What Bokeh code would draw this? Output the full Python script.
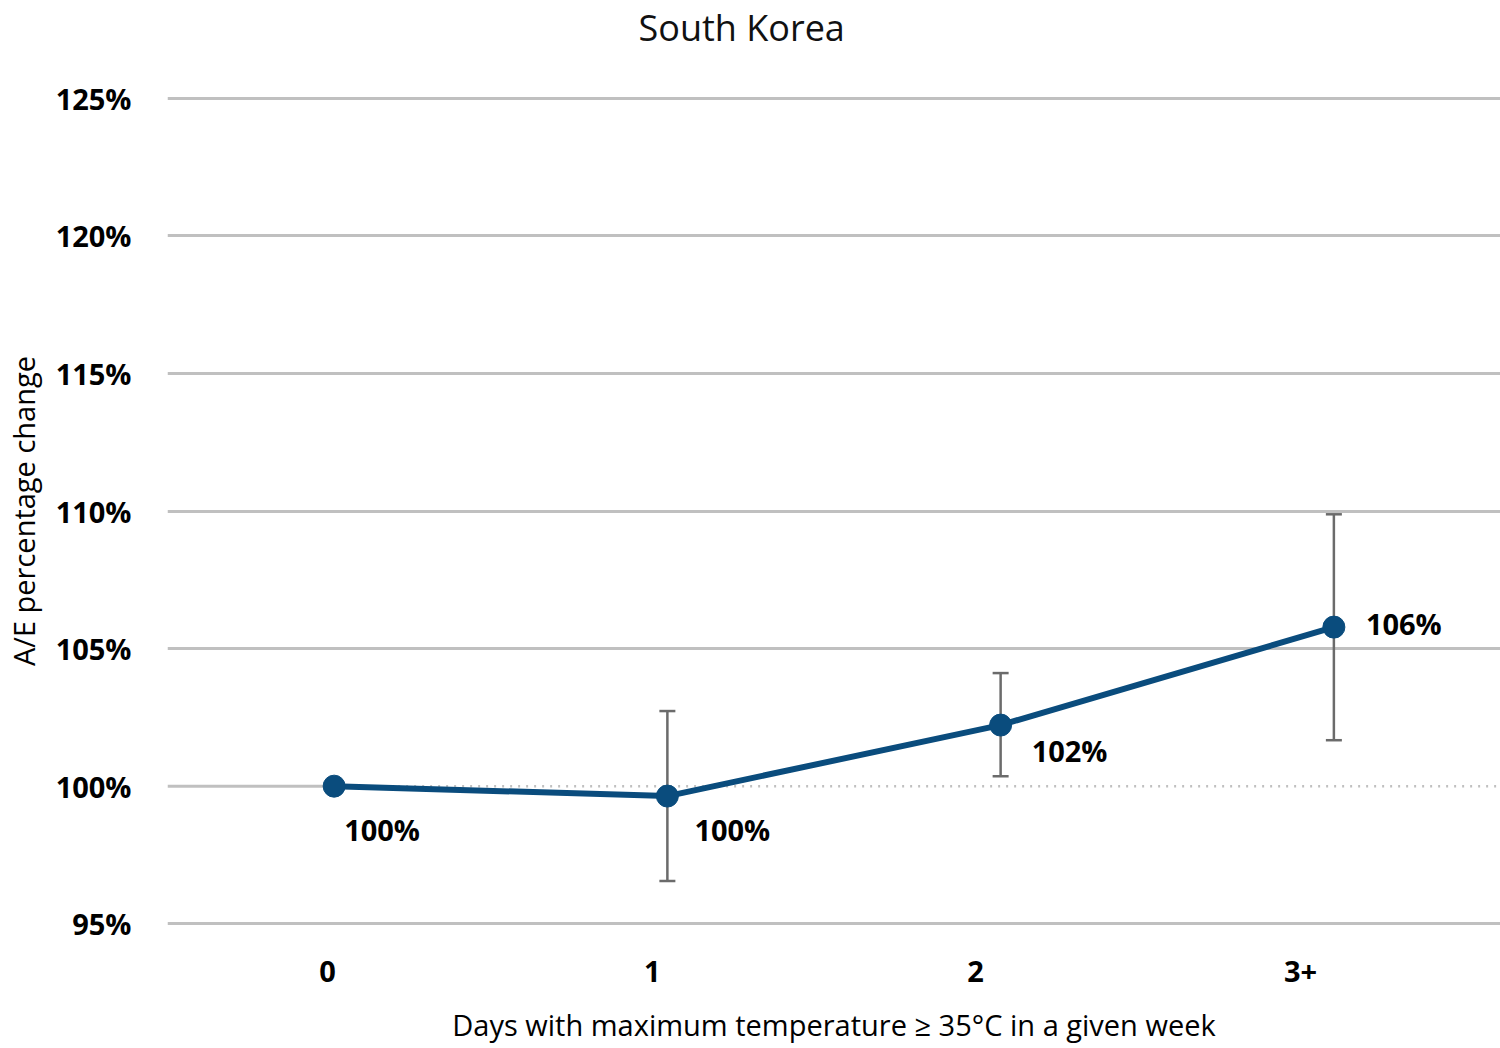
from bokeh.plotting import figure
from bokeh.models import (Range1d, FixedTicker, ColumnDataSource, Whisker, Title,
                          NumeralTickFormatter)
from bokeh.core.properties import value
from bokeh.embed import file_html
from bokeh.resources import INLINE

# ---- data ----
categories = ["0", "1", "2", "3+"]
ae_ratio = [100.0, 99.64, 102.22, 105.78]
err_upper = [None, 102.73, 104.11, 109.88]
err_lower = [None, 96.55, 100.36, 101.67]
y_ticks = [95, 100, 105, 110, 115, 120, 125]

FONT = "Open Sans"
BLUE = "#0a4c7d"
GRID = "#c0c0c0"

xs = [i + 0.5 for i in range(len(categories))]

p = figure(width=1500, height=1048, output_backend="svg", toolbar_location=None,
           x_range=Range1d(0, len(categories)), y_range=Range1d(94.9, 125.1),
           min_border_left=159, min_border_right=0, min_border_top=40, min_border_bottom=122)

p.outline_line_color = None
p.background_fill_color = "white"
p.border_fill_color = "white"

# spacer between frame and title, then the title itself at the top
spacer = Title(text=" ", text_font_size="1px", standoff=41)
p.add_layout(spacer, "above")
t = Title(text="South Korea", align="left", text_font=FONT, text_font_size="36px",
          text_font_style="normal", text_color="#111111", offset=471, standoff=0)
p.add_layout(t, "above")
p.title.visible = False

# grid (100 drawn separately)
p.xgrid.visible = False
p.ygrid.ticker = FixedTicker(ticks=[v for v in y_ticks if v != 100])
p.ygrid.grid_line_color = GRID
p.ygrid.grid_line_width = 3

# y axis
p.yaxis.ticker = FixedTicker(ticks=y_ticks)
p.yaxis.formatter = NumeralTickFormatter(format="0")
p.yaxis.major_label_overrides = {v: f"{v}%" for v in y_ticks}
p.yaxis.axis_line_color = None
p.yaxis.major_tick_line_color = None
p.yaxis.minor_tick_line_color = None
p.yaxis.major_label_text_font = FONT
p.yaxis.major_label_text_font_style = "bold"
p.yaxis.major_label_text_font_size = "29px"
p.yaxis.major_label_text_color = "black"
p.yaxis.major_label_standoff = 30
p.yaxis.axis_label = "A/E percentage change"
p.yaxis.axis_label_text_font = FONT
p.yaxis.axis_label_text_font_style = "normal"
p.yaxis.axis_label_text_font_size = "29px"
p.yaxis.axis_label_text_color = "black"
p.yaxis.axis_label_standoff = 10

# x axis (category labels)
tick_pos = [0.48, 1.455, 2.425, 3.40]
p.xaxis.ticker = FixedTicker(ticks=tick_pos)
p.xaxis.major_label_overrides = {tp: c for tp, c in zip(tick_pos, categories)}
p.xaxis.axis_line_color = None
p.xaxis.major_tick_line_color = None
p.xaxis.minor_tick_line_color = None
p.xaxis.major_label_text_font = FONT
p.xaxis.major_label_text_font_style = "bold"
p.xaxis.major_label_text_font_size = "29px"
p.xaxis.major_label_text_color = "black"
p.xaxis.major_label_standoff = 28
p.xaxis.axis_label = "Days with maximum temperature \u2265 35\u00b0C in a given week"
p.xaxis.axis_label_text_font = FONT
p.xaxis.axis_label_text_font_style = "normal"
p.xaxis.axis_label_text_font_size = "29px"
p.xaxis.axis_label_text_color = "black"
p.xaxis.axis_label_standoff = 20

# 100% reference line: solid up to first point, dotted after
p.segment(x0=[0], y0=[100], x1=[xs[0]], y1=[100], line_color=GRID, line_width=3)
p.segment(x0=[xs[0]], y0=[100], x1=[len(categories)], y1=[100], line_color=GRID,
          line_width=2.5, line_dash="2 6")

# error bars
eb_x = [x for x, u in zip(xs, err_upper) if u is not None]
eb_u = [u for u in err_upper if u is not None]
eb_l = [l for l in err_lower if l is not None]
esrc = ColumnDataSource(dict(x=eb_x, upper=eb_u, lower=eb_l))
w = Whisker(source=esrc, base="x", upper="upper", lower="lower", dimension="height",
            line_color="#6b6b6b", line_width=2.5)
w.upper_head.size = 16
w.lower_head.size = 16
w.upper_head.line_color = "#6b6b6b"
w.lower_head.line_color = "#6b6b6b"
w.upper_head.line_width = 2.5
w.lower_head.line_width = 2.5
p.add_layout(w)

# line + markers
src = ColumnDataSource(dict(x=xs, y=ae_ratio,
                            lab=[f"{round(v):d}%" for v in ae_ratio],
                            xo=[10, 27, 31, 32], yo=[43, 33, 25, -4]))
p.line("x", "y", source=src, line_color=BLUE, line_width=6)
p.scatter("x", "y", source=src, size=22, fill_color=BLUE, line_color=BLUE)
p.text("x", "y", text="lab", source=src, x_offset="xo", y_offset="yo",
       text_font=value(FONT), text_font_style="bold", text_font_size="29px",
       text_color="black", text_align="left", text_baseline="middle")

open("out.html", "w").write(file_html(p, INLINE))
